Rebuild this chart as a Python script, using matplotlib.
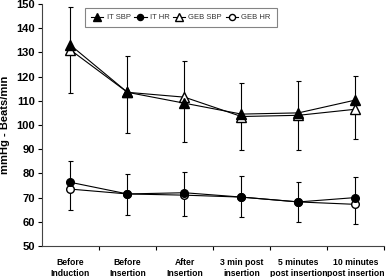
import matplotlib
matplotlib.use("Agg")
import matplotlib.pyplot as plt
import numpy as np

# ---- data ----
categories = ["Before\nInduction", "Before\nInsertion", "After\nInsertion",
              "3 min post\ninsertion", "5 minutes\npost insertion", "10 minutes\npost insertion"]

it_sbp = [133, 113.5, 109, 104.5, 105, 110.3]
geb_sbp = [131, 113.5, 111.5, 103.5, 104, 106.5]
it_hr = [76.3, 71.5, 72, 70.2, 68.2, 70]
geb_hr = [73.5, 71.5, 71, 70.2, 68.2, 67.2]

# error bar extents (lower, upper)
sbp_err_lo = [113.2, 96.6, 93.1, 89.7, 89.7, 94.1]
sbp_err_hi = [148.8, 128.5, 126.4, 117.4, 118.2, 120.2]
hr_err_lo = [64.9, 63.0, 62.5, 61.9, 59.8, 59.0]
hr_err_hi = [85.2, 79.6, 80.6, 78.9, 76.6, 78.5]

y_ticks = list(range(50, 151, 10))

plt.rcParams['font.family'] = ['Liberation Sans', 'DejaVu Sans']

fig = plt.figure(figsize=(3.87, 2.77), dpi=100)
ax = fig.add_axes([0.1085, 0.112, 0.8835, 0.8736])

x = np.arange(len(categories))


def draw_err(lo, hi):
    lo = np.array(lo)
    hi = np.array(hi)
    mid = (lo + hi) / 2
    ax.errorbar(x, mid, yerr=(hi - lo) / 2, fmt='none', ecolor='black',
                elinewidth=0.8, capsize=1.8, capthick=0.8, zorder=1)


draw_err(sbp_err_lo, sbp_err_hi)
draw_err(hr_err_lo, hr_err_hi)

ax.plot(x, it_sbp, '-^', color='black', lw=0.8, ms=6.5, mfc='black', label='IT SBP', zorder=3)
ax.plot(x, it_hr, '-o', color='black', lw=0.8, ms=5.5, mfc='black', label='IT HR', zorder=3)
ax.plot(x, geb_sbp, '-^', color='black', lw=0.8, ms=6.5, mfc='white', label='GEB SBP', zorder=2)
ax.plot(x, geb_hr, '-o', color='black', lw=0.8, ms=5.5, mfc='white', label='GEB HR', zorder=2)

ax.set_xlim(-0.5, len(categories) - 0.5)
ax.set_ylim(50, 150)
ax.set_yticks(y_ticks)
ax.set_yticklabels([str(t) for t in y_ticks], fontsize=8, fontweight='bold')

ax.set_xticks(np.arange(len(categories)) + 0.5)
ax.set_xticklabels([])
ax.set_xticks(x, minor=True)
ax.set_xticklabels(categories, minor=True, fontsize=6.2, fontweight='bold')
ax.tick_params(axis='x', which='minor', length=0, pad=9)
ax.tick_params(axis='x', which='major', length=3, width=0.8, direction='out')
ax.tick_params(axis='y', length=3, width=0.8, direction='out', pad=2)

for s in ['top', 'right']:
    ax.spines[s].set_visible(False)
for s in ['left', 'bottom']:
    ax.spines[s].set_linewidth(0.8)
    ax.spines[s].set_color('#444444')

ax.set_ylabel("mmHg - Beats/min", fontsize=8, fontweight='bold')
ax.yaxis.set_label_coords(-0.093, 0.5)

leg = ax.legend(loc='upper left', bbox_to_anchor=(0.115, 1.0), ncol=4, fontsize=5.5,
                frameon=True, fancybox=False, edgecolor='#666666', handlelength=1.6,
                handletextpad=0.4, columnspacing=0.5, borderpad=0.8, markerscale=0.8)
leg.get_frame().set_linewidth(0.8)
for t in leg.get_texts():
    t.set_color('#333333')

fig.savefig("out.png", dpi=100)
